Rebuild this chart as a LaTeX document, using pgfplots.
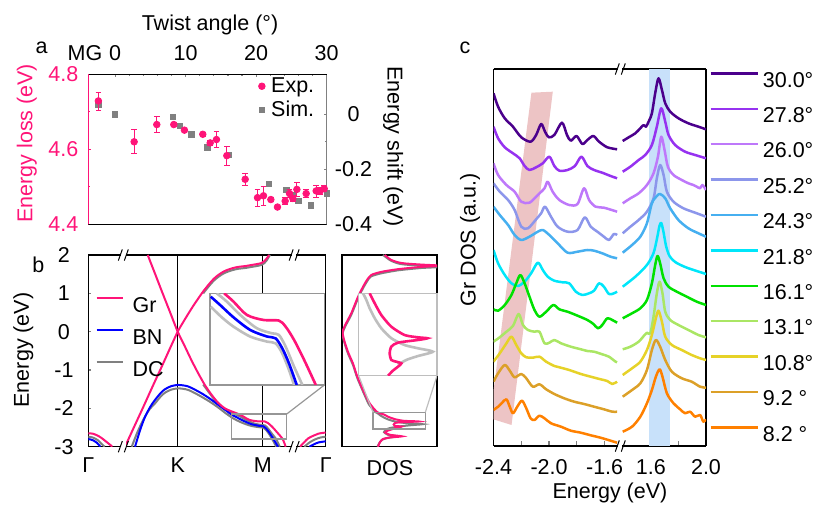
\documentclass[border=0pt]{standalone}
\usepackage{fontspec}
\setmainfont{Liberation Sans}
\usepackage{pgfplots}
\pgfplotsset{compat=1.18}
\definecolor{gr}{RGB}{255,20,120}
\definecolor{bn}{RGB}{0,0,255}
\definecolor{dc}{RGB}{128,128,128}
\definecolor{dcl}{RGB}{190,190,190}
\definecolor{boxg}{RGB}{150,150,150}
\definecolor{cA}{RGB}{75,0,140}
\definecolor{cB}{RGB}{150,50,240}
\definecolor{cC}{RGB}{190,120,250}
\definecolor{cD}{RGB}{140,150,235}
\definecolor{cE}{RGB}{70,175,240}
\definecolor{cF}{RGB}{0,230,250}
\definecolor{cG}{RGB}{0,225,0}
\definecolor{cH}{RGB}{170,230,100}
\definecolor{cI}{RGB}{230,210,40}
\definecolor{cJ}{RGB}{220,160,40}
\definecolor{cK}{RGB}{255,128,0}
\definecolor{pinkband}{RGB}{237,196,197}
\definecolor{blueband}{RGB}{200,225,250}
\newcommand{\fs}{\fontsize{10.75}{12.5}\selectfont}
% break mark "//" centred on a point
\newcommand{\brk}[1]{%
  \fill[white] ([shift={(-1.1pt,-2.8pt)}]#1) rectangle ([shift={(1.1pt,2.8pt)}]#1);
  \draw[line width=0.5pt] ([shift={(-2.5pt,-2.8pt)}]#1) -- ([shift={(-0.5pt,2.8pt)}]#1);
  \draw[line width=0.5pt] ([shift={(0.5pt,-2.8pt)}]#1) -- ([shift={(2.5pt,2.8pt)}]#1);}
\pgfplotsset{
  base/.style={scale only axis, anchor=south west, font=\fs,
    tick label style={font=\fs},
    /pgf/number format/assume math mode=true,
    axis line style={line width=0.65pt},
    every tick/.append style={line width=0.6pt},
    tick align=inside},
  spec/.style={line width=1.25pt, smooth, tension=0.5, line join=round},
}
\begin{document}
\begin{tikzpicture}
\path[use as bounding box] (0pt,0pt) rectangle (407pt,253.5pt);

% ---------------- panel a ----------------
\begin{axis}[base, at={(44.15pt,141.35pt)}, width=119.2pt, height=75pt,
  xmin=-3.8, xmax=30, ymin=-0.4, ymax=0.1455,
  axis x line=none, axis y line*=right, y axis line style={dc},
  ytick={-0.4,-0.2,0}, yticklabels={-0.4,-0.2,0}, minor y tick num=1,
  y tick style={dc}, yticklabel style={anchor=center, xshift=13.4pt},
  major tick length=1.6pt, minor tick length=1.1pt]
\addplot[only marks, mark=square*, mark size=1.35pt, dc] coordinates {
  (-2.37,0.034)(0,0.000)(8.2,-0.009)(9.2,-0.043)(10.8,-0.073)(13.1,-0.121)
  (16.1,-0.148)(21.8,-0.253)(24.3,-0.275)(25.2,-0.293)(26.0,-0.314)
  (27.8,-0.332)(30.0,-0.287)};
\end{axis}

\begin{axis}[base, at={(44.15pt,141.35pt)}, width=119.2pt, height=75pt,
  xmin=-3.8, xmax=30, ymin=4.4, ymax=4.8,
  axis x line*=top, axis y line*=left,
  x axis line style={black}, y axis line style={gr},
  xtick={0,10,20,30}, xticklabels={0,10,20,30}, minor x tick num=4,
  ytick={4.4,4.6,4.8}, yticklabels={4.4,4.6,4.8}, minor y tick num=1,
  y tick style={gr}, yticklabel style={text=gr, anchor=center, xshift=-12.5pt},
  xticklabel style={anchor=center, yshift=10.5pt},
  major tick length=1.6pt, minor tick length=1.1pt,
  legend style={draw=none, fill=none, at={(0.966,1.009)}, anchor=north east,
    inner sep=0pt, row sep=-1.2pt, column sep=1pt, font=\fs},
  legend image code/.code={\draw[#1] plot coordinates {(0pt,0pt)};},
  legend cell align=left]
\draw[line width=0.65pt] (rel axis cs:0,0) -- (rel axis cs:1,0);
\addplot[only marks, mark=*, mark size=1.65pt, gr,
  error bars/.cd, y dir=both, y explicit,
  error bar style={gr, line width=0.4pt},
  error mark options={rotate=90, gr, mark size=1.4pt, line width=0.4pt}]
  table[x=x, y=y, y error=e] {
x      y      e
-2.37  4.729  0.024
2.70   4.620  0.032
5.91   4.666  0.021
8.32   4.666  0.006
9.83   4.651  0.005
12.43  4.640  0.005
13.48  4.617  0.006
14.37  4.626  0.022
15.84  4.583  0.025
18.44  4.520  0.016
20.19  4.471  0.022
21.04  4.476  0.026
22.08  4.466  0.006
23.02  4.446  0.005
24.11  4.462  0.010
24.73  4.482  0.010
25.20  4.469  0.008
25.77  4.493  0.019
27.09  4.482  0.010
28.51  4.489  0.016
29.08  4.489  0.010
29.65  4.495  0.008
};
\addlegendentry{Exp.}
\addlegendimage{only marks, mark=square*, mark size=1.35pt, dc}
\addlegendentry{Sim.}
\end{axis}

% ---------------- panel b: bands ----------------
\begin{axis}[base, at={(44.15pt,30.15pt)}, width=118.7pt, height=95.85pt,
  xmin=-1.052, xmax=1.741, ymin=-3, ymax=2, clip mode=individual,
  xtick={-1.052,0,1,1.741}, xticklabels={Γ,K,M,Γ}, x tick style={draw=none},
  xticklabel style={anchor=center, yshift=-9.15pt},
  ytick={-3,-2,-1,0,1,2}, yticklabels={-3,-2,-1,0,1,2}, ytick pos=left,
  yticklabel style={anchor=center, xshift=-12.2pt},
  major tick length=1.6pt,
  legend style={draw=none, fill=none, at={(0.028,0.785)}, anchor=north west,
    inner sep=0pt, row sep=8.3pt, column sep=4.1pt, font=\fs,
    nodes={inner sep=0pt, text height=7.7pt, text depth=0pt}},
  legend image code/.code={\draw[#1] (0pt,3.3pt) -- (13.35pt,3.3pt);},
  legend cell align=left]
\addplot[black, line width=0.55pt, forget plot] coordinates {(0,-3)(0,2)};
\addplot[black, line width=0.55pt, forget plot] coordinates {(1,-3)(1,2)};
% DC (grey)
\addplot[dc, line width=1pt, smooth, tension=0.5, forget plot] coordinates {
  (-0.541,-3)(-0.47,-2.6)(-0.396,-2.26)(-0.33,-2.02)(-0.267,-1.87)(-0.2,-1.69)
  (-0.149,-1.59)(-0.075,-1.51)(0,-1.48)(0.062,-1.49)(0.125,-1.52)(0.2,-1.60)
  (0.282,-1.70)(0.38,-1.83)(0.478,-1.98)(0.56,-2.12)(0.639,-2.243)(0.702,-2.319)
  (0.768,-2.385)(0.863,-2.456)(0.959,-2.492)(1.006,-2.504)(1.044,-2.575)
  (1.082,-2.693)(1.111,-2.800)(1.16,-3.0)};
\addplot[dc, line width=1pt, smooth, tension=0.5, forget plot] coordinates {
  (0.3,-1.38)(0.4,-1.68)(0.478,-1.89)(0.555,-2.03)(0.635,-2.12)(0.673,-2.148)
  (0.730,-2.207)(0.806,-2.302)(0.901,-2.397)(0.987,-2.433)(1.025,-2.444)
  (1.063,-2.527)(1.111,-2.670)(1.158,-2.800)(1.2,-3.0)};
\addplot[dc, line width=1pt, smooth, tension=0.5, forget plot] coordinates {
  (0.30,1.0)(0.361,1.17)(0.42,1.32)(0.478,1.43)(0.55,1.53)(0.635,1.60)(0.712,1.64)
  (0.792,1.66)(0.87,1.69)(0.949,1.72)(0.985,1.74)(1.02,1.79)(1.047,1.86)(1.085,2.0)};
\addplot[dc, line width=1pt, smooth, forget plot] coordinates {
  (-1.052,-2.74)(-1.0,-2.76)(-0.94,-2.83)(-0.9,-2.92)(-0.86,-3.0)};
\addplot[dc, line width=1pt, smooth, forget plot] coordinates {
  (1.49,-3)(1.55,-2.89)(1.616,-2.81)(1.68,-2.76)(1.741,-2.74)};
% BN (blue)
\addplot[bn, line width=1pt, smooth, tension=0.5, forget plot] coordinates {
  (-0.502,-3.0)(-0.44,-2.55)(-0.384,-2.22)(-0.32,-1.95)(-0.267,-1.78)(-0.2,-1.60)
  (-0.149,-1.50)(-0.075,-1.42)(0,-1.39)(0.062,-1.40)(0.125,-1.43)(0.2,-1.51)
  (0.282,-1.61)(0.38,-1.75)(0.478,-1.91)(0.56,-2.04)(0.639,-2.172)(0.692,-2.231)
  (0.768,-2.319)(0.863,-2.409)(0.959,-2.456)(1.006,-2.468)(1.044,-2.539)
  (1.082,-2.646)(1.126,-2.800)(1.18,-3.0)};
\addplot[bn, line width=1pt, smooth, forget plot] coordinates {
  (-1.052,-2.80)(-1.0,-2.83)(-0.95,-2.9)(-0.91,-3.0)};
\addplot[bn, line width=1pt, smooth, forget plot] coordinates {
  (1.55,-3)(1.6,-2.94)(1.655,-2.89)(1.741,-2.86)};
% Gr (pink)
\addplot[gr, line width=1pt, smooth, tension=0.5, forget plot] coordinates {
  (-0.353,2)(-0.27,1.53)(-0.188,1.06)(-0.094,0.53)(0,0)(0.083,-0.38)(0.165,-0.76)
  (0.245,-1.10)(0.322,-1.40)(0.4,-1.65)(0.478,-1.86)(0.555,-2.00)(0.635,-2.08)
  (0.715,-2.148)(0.768,-2.207)(0.844,-2.302)(0.939,-2.338)(1.025,-2.342)
  (1.063,-2.385)(1.111,-2.480)(1.168,-2.622)(1.234,-2.800)(1.27,-3.0)};
\addplot[gr, line width=1pt, smooth, tension=0.5, forget plot] coordinates {
  (-0.620,-3.0)(-0.5,-2.42)(-0.4,-1.94)(-0.3,-1.45)(-0.2,-0.97)(-0.1,-0.48)(0,0)
  (0.062,0.24)(0.125,0.47)(0.185,0.68)(0.243,0.87)(0.30,1.05)(0.361,1.22)
  (0.42,1.37)(0.478,1.48)(0.55,1.58)(0.635,1.65)(0.712,1.69)(0.792,1.71)
  (0.87,1.74)(0.949,1.77)(0.985,1.79)(1.02,1.84)(1.047,1.91)(1.075,2.0)};
\addplot[gr, line width=1pt, smooth, forget plot] coordinates {
  (-1.052,-2.65)(-1.0,-2.66)(-0.933,-2.72)(-0.88,-2.8)(-0.835,-2.88)(-0.79,-2.96)(-0.77,-3.0)};
\addplot[gr, line width=1pt, smooth, forget plot] coordinates {
  (1.439,-3)(1.49,-2.88)(1.537,-2.78)(1.6,-2.71)(1.655,-2.66)(1.741,-2.63)};
\addlegendimage{gr, line width=1.2pt}\addlegendentry{Gr}
\addlegendimage{bn, line width=1.2pt}\addlegendentry{BN}
\addlegendimage{dc, line width=1.2pt}\addlegendentry{DC}
% zoom box and connector
\draw[boxg, line width=0.6pt] (axis cs:0.635,-2.148) rectangle (axis cs:1.282,-2.80);
\draw[boxg, line width=0.6pt] (axis cs:1.282,-2.148) -- (axis cs:1.725,-1.392);
\brk{axis cs:-0.64,2}
\brk{axis cs:-0.64,-3}
\brk{axis cs:1.37,2}
\brk{axis cs:1.37,-3}
\end{axis}

% inset of band panel
\begin{axis}[base, at={(105pt,61pt)}, width=57.15pt, height=45.85pt,
  xmin=0.635, xmax=1.282, ymin=-2.80, ymax=-2.148, xtick=\empty, ytick=\empty,
  axis line style={boxg, line width=0.6pt}, axis background/.style={fill=white}]
\addplot[dcl, line width=1.3pt, smooth, tension=0.5] coordinates {
  (0.639,-2.243)(0.702,-2.319)(0.768,-2.385)(0.863,-2.456)(0.959,-2.492)
  (1.006,-2.504)(1.044,-2.575)(1.082,-2.693)(1.111,-2.800)};
\addplot[dcl, line width=1.3pt, smooth, tension=0.5] coordinates {
  (0.673,-2.148)(0.730,-2.207)(0.806,-2.302)(0.901,-2.397)(0.987,-2.433)
  (1.025,-2.444)(1.063,-2.527)(1.111,-2.670)(1.158,-2.800)};
\addplot[bn, line width=1.3pt, smooth, tension=0.5] coordinates {
  (0.639,-2.172)(0.692,-2.231)(0.768,-2.319)(0.863,-2.409)(0.959,-2.456)
  (1.006,-2.468)(1.044,-2.539)(1.082,-2.646)(1.126,-2.800)};
\addplot[gr, line width=1.3pt, smooth, tension=0.5] coordinates {
  (0.715,-2.148)(0.768,-2.207)(0.844,-2.302)(0.939,-2.338)(1.025,-2.342)
  (1.063,-2.385)(1.111,-2.480)(1.168,-2.622)(1.234,-2.800)};
\end{axis}

% ---------------- panel b: DOS ----------------
\begin{axis}[base, at={(171pt,30.15pt)}, width=47.5pt, height=95.85pt,
  xmin=0, xmax=95, ymin=-3, ymax=2, xtick=\empty, ytick=\empty]
\addplot[dc, line width=1pt, smooth, tension=0.4] coordinates {
  (41,2.0)(45,1.92)(49,1.85)(56,1.78)(63,1.75)(79,1.72)(100,1.69)(79,1.66)
  (56,1.60)(39,1.52)(29,1.44)(25,1.31)(21,1.13)(16,0.87)(9.3,0.44)(0.7,-0.04)
  (5.3,-0.52)(11,-0.87)(15,-1.19)(21,-1.56)(27,-1.90)(33.9,-2.104)(36.1,-2.139)
  (38.3,-2.183)(41.7,-2.236)(46.1,-2.289)(52.8,-2.342)(61.7,-2.378)(70.6,-2.395)
  (80.6,-2.413)(70.6,-2.436)(63.9,-2.453)(55,-2.48)(47,-2.52)(44,-2.56)(42,-2.62)
  (46,-2.69)(55,-2.73)(46,-2.77)(40,-2.82)(37,-2.92)(35.5,-3.0)};
\addplot[gr, line width=1pt, smooth, tension=0.4] coordinates {
  (42.7,2.0)(46,1.93)(49.3,1.87)(56,1.81)(62.7,1.78)(79.3,1.75)(100,1.72)
  (79.3,1.69)(56,1.63)(39.3,1.56)(29.3,1.48)(25,1.35)(21,1.17)(16,0.91)
  (9.3,0.48)(0.7,0.0)(5.3,-0.48)(11,-0.83)(15,-1.15)(21,-1.52)(27.7,-1.87)
  (35.3,-2.10)(41.7,-2.157)(46.1,-2.219)(52.8,-2.281)(61.7,-2.325)(76.9,-2.342)
  (57.3,-2.365)(52.8,-2.386)(51.7,-2.422)(52.8,-2.457)(59.5,-2.475)(53.9,-2.513)
  (50.6,-2.540)(46,-2.58)(43,-2.63)(48,-2.69)(60,-2.73)(48,-2.76)(41,-2.80)
  (38,-2.88)(36,-3.0)};
\draw[boxg, line width=0.6pt] (axis cs:31,-2.104) rectangle (axis cs:83.3,-2.540);
\draw[dcl, line width=0.6pt] (axis cs:16.7,-1.149) -- (axis cs:31,-2.104);
\draw[dcl, line width=0.6pt] (axis cs:95,-1.149) -- (axis cs:83.3,-2.104);
\end{axis}

\begin{axis}[base, at={(179.35pt,65.65pt)}, width=39.15pt, height=41.2pt,
  xmin=31, xmax=83.3, ymin=-2.540, ymax=-2.104, xtick=\empty, ytick=\empty,
  axis line style={dcl, line width=0.6pt}, axis background/.style={fill=white}]
\addplot[dcl, line width=1.3pt, smooth, tension=0.4] coordinates {
  (33.9,-2.104)(36.1,-2.139)(38.3,-2.183)(41.7,-2.236)(46.1,-2.289)(52.8,-2.342)
  (61.7,-2.378)(70.6,-2.395)(80.6,-2.413)(70.6,-2.436)(63.9,-2.453)(60.6,-2.466)(57,-2.48)};
\addplot[gr, line width=1.3pt, smooth, tension=0.4] coordinates {
  (38.3,-2.104)(41.7,-2.157)(46.1,-2.219)(52.8,-2.281)(61.7,-2.325)(70.6,-2.337)
  (76.9,-2.342)(70.6,-2.351)(57.3,-2.365)(52.8,-2.386)(51.7,-2.422)(52.8,-2.457)
  (56.2,-2.466)(59.5,-2.475)(57.3,-2.492)(53.9,-2.513)(50.6,-2.540)};
\end{axis}

% ---------------- panel c ----------------
\begin{axis}[base, at={(246.75pt,30.5pt)}, width=62.5pt, height=188.5pt,
  xmin=-2.4, xmax=-1.5, ymin=0, ymax=377,
  axis x line*=bottom, axis y line*=left, clip mode=individual,
  xtick={-2.4,-2.2,-2.0,-1.8,-1.6}, xticklabels={-2.4,,-2.0,,-1.6}, ytick=\empty,
  xticklabel style={anchor=center, yshift=-10.35pt},
  major tick length=2.5pt]
\draw[line width=0.65pt] (rel axis cs:0,1) -- (rel axis cs:1,1);
\addplot[fill=pinkband, draw=none] coordinates {
  (-2.425,27.7)(-2.270,21)(-1.973,354.3)(-2.127,353.3)} -- cycle;
\addplot[spec, cA] coordinates {(-2.400,352.7)(-2.367,339.3)(-2.319,327.7)(-2.260,319.3)(-2.200,308.7)(-2.133,304.3)(-2.093,311)(-2.057,322)(-2.029,314.3)(-2.002,308.7)(-1.962,311)(-1.907,323.3)(-1.871,311)(-1.843,305.3)(-1.802,310)(-1.760,302)(-1.724,306)(-1.681,310)(-1.640,304.3)(-1.581,298.7)(-1.510,296.7)};
\addplot[spec, cB] coordinates {(-2.400,319.3)(-2.367,307.7)(-2.319,298.7)(-2.260,292.7)(-2.212,287.7)(-2.176,280)(-2.141,276)(-2.093,278.7)(-2.045,282.7)(-1.998,289.3)(-1.962,280)(-1.926,275.3)(-1.867,276)(-1.814,280)(-1.767,289.3)(-1.724,280)(-1.676,276)(-1.617,273.3)(-1.557,270)(-1.510,267.7)};
\addplot[spec, cC] coordinates {(-2.400,282.7)(-2.367,271)(-2.307,261)(-2.248,254.3)(-2.200,244.3)(-2.141,243.3)(-2.081,251)(-2.033,257.7)(-2.010,264.3)(-1.974,254.3)(-1.926,246)(-1.855,241)(-1.795,242)(-1.748,257.7)(-1.712,246)(-1.665,239.3)(-1.605,238.3)(-1.510,234.3)};
\addplot[spec, cD] coordinates {(-2.400,262.7)(-2.355,254.3)(-2.295,246)(-2.248,236)(-2.200,219.3)(-2.152,217.7)(-2.093,226.7)(-2.057,232.7)(-2.029,239.3)(-1.986,229.3)(-1.938,219.3)(-1.867,214.3)(-1.795,216)(-1.743,228.7)(-1.700,219.3)(-1.652,214.3)(-1.605,209.3)(-1.569,206)(-1.533,212)(-1.510,211)};
\addplot[spec, cE] coordinates {(-2.400,239.3)(-2.355,231)(-2.295,221)(-2.248,211)(-2.200,206)(-2.141,209.3)(-2.081,214.3)(-2.045,216)(-1.998,211)(-1.938,202.7)(-1.867,193.3)(-1.795,194.3)(-1.724,196)(-1.676,195.3)(-1.617,192.7)(-1.557,189.3)(-1.510,187.7)};
\addplot[spec, cF] coordinates {(-2.400,196)(-2.367,182.7)(-2.319,171)(-2.271,162.7)(-2.224,160)(-2.176,164.3)(-2.129,172.7)(-2.081,183.3)(-2.045,176)(-2.010,169.3)(-1.962,165.3)(-1.903,163.7)(-1.855,162.7)(-1.807,154.3)(-1.760,151)(-1.712,152.7)(-1.676,155.3)(-1.640,162.7)(-1.605,159.3)(-1.569,152)(-1.533,152.7)(-1.510,154.3)};
\addplot[spec, cG] coordinates {(-2.400,136.7)(-2.367,135.3)(-2.319,141)(-2.271,151)(-2.236,162.7)(-2.207,171)(-2.176,162.7)(-2.141,149.3)(-2.105,136)(-2.069,129.3)(-2.021,134.3)(-1.969,141)(-1.926,136.7)(-1.867,134.3)(-1.807,131)(-1.724,126)(-1.681,122)(-1.648,117.7)(-1.617,121)(-1.581,127.7)(-1.545,126)(-1.510,123.3)};
\addplot[spec, cH] coordinates {(-2.400,104.3)(-2.355,108.7)(-2.307,114.3)(-2.260,120)(-2.219,132)(-2.188,121)(-2.152,116)(-2.105,114.3)(-2.069,114.3)(-2.033,102.7)(-1.998,103.3)(-1.962,106)(-1.914,102.7)(-1.843,99.3)(-1.771,96.7)(-1.724,95)(-1.676,94.3)(-1.617,91.7)(-1.569,89.3)(-1.521,84.3)(-1.510,83.7)};
\addplot[spec, cI] coordinates {(-2.400,84.3)(-2.355,92.7)(-2.307,102.7)(-2.271,109.3)(-2.236,101)(-2.200,92.7)(-2.164,88.7)(-2.117,88.3)(-2.069,89.3)(-2.021,84.3)(-1.962,80)(-1.926,78.7)(-1.855,76)(-1.771,72)(-1.700,69.3)(-1.629,66.7)(-1.581,65)(-1.545,62)(-1.510,64.3)};
\addplot[spec, cJ] coordinates {(-2.400,64.3)(-2.367,72.7)(-2.319,81)(-2.283,75.3)(-2.248,68.7)(-2.200,72)(-2.164,67.7)(-2.117,59.3)(-2.069,61.7)(-2.021,56.7)(-1.962,52)(-1.891,47.7)(-1.819,44.3)(-1.748,42)(-1.676,39.3)(-1.605,36.7)(-1.545,34.3)(-1.510,34.3)};
\addplot[spec, cK] coordinates {(-2.400,36)(-2.367,39.3)(-2.338,43.3)(-2.307,46.7)(-2.283,39.3)(-2.260,32.7)(-2.229,39.3)(-2.195,45.3)(-2.164,37.7)(-2.133,27.7)(-2.105,26)(-2.069,30.3)(-2.033,27.7)(-1.986,22.7)(-1.914,19.3)(-1.843,15.3)(-1.771,13.3)(-1.700,10.7)(-1.629,8.3)(-1.557,5.3)(-1.510,3.3)};
\brk{axis cs:-1.487,377}
\brk{axis cs:-1.487,0}
\end{axis}

\begin{axis}[base, at={(311pt,30.5pt)}, width=42pt, height=188.5pt,
  xmin=1.39, xmax=2.0, ymin=0, ymax=377,
  axis x line*=bottom, axis y line*=right,
  xtick={1.6,1.8,2.0}, xticklabels={1.6,,2.0}, ytick=\empty,
  xticklabel style={anchor=center, yshift=-10.35pt},
  major tick length=2.5pt,
  legend style={draw=none, fill=none, at={(1.0357,0.994)}, anchor=north west,
    inner sep=0pt, row sep=10pt, column sep=2pt, font=\fs,
    nodes={inner sep=0pt, text height=7.7pt, text depth=0pt}},
  legend image code/.code={\draw[#1] (0pt,3pt) -- (23.5pt,3pt);},
  legend cell align=left]
\draw[line width=0.65pt] (rel axis cs:0,1) -- (rel axis cs:1,1);
\addplot[fill=blueband, draw=none, forget plot] coordinates {
  (1.583,0)(1.740,0)(1.740,377)(1.583,377)} -- cycle;
\addplot[spec, cA] coordinates {(1.395,305)(1.439,308.7)(1.487,312.7)(1.523,317.7)(1.547,321)(1.564,319.3)(1.583,324.3)(1.607,332.7)(1.631,352.7)(1.655,367.7)(1.680,356)(1.704,342.7)(1.740,334.3)(1.800,327.7)(1.872,322.7)(1.945,319.3)(2.000,316.7)};
\addlegendentry{30.0°}
\addplot[spec, cB] coordinates {(1.395,274.3)(1.451,279.3)(1.511,286)(1.559,291)(1.607,301)(1.643,319.3)(1.675,337.7)(1.704,324.3)(1.728,311)(1.776,301)(1.848,294.3)(1.921,291)(2.000,287.7)};
\addlegendentry{27.8°}
\addplot[spec, cC] coordinates {(1.395,242.7)(1.451,247.7)(1.511,252.7)(1.571,261)(1.619,272.7)(1.651,289.3)(1.675,309.3)(1.699,296)(1.723,279.3)(1.764,271)(1.824,266)(1.872,262.7)(1.908,261)(1.933,259.3)(1.957,257.7)(1.974,261)(2.000,256)};
\addlegendentry{26.0°}
\addplot[spec, cD] coordinates {(1.395,212.7)(1.451,219.3)(1.511,226)(1.571,234.3)(1.619,247.7)(1.643,267.7)(1.667,281)(1.692,271)(1.716,254.3)(1.764,244.3)(1.836,237.7)(1.921,233.3)(2.000,229.3)};
\addlegendentry{25.2°}
\addplot[spec, cE] coordinates {(1.395,193.3)(1.463,201)(1.523,209.3)(1.571,222.7)(1.607,242.7)(1.643,250)(1.667,252)(1.704,247.7)(1.740,237.7)(1.800,226)(1.872,217.7)(1.945,212.7)(2.000,209.3)};
\addlegendentry{24.3°}
\addplot[spec, cF] coordinates {(1.395,159.3)(1.487,169.3)(1.571,181)(1.619,193)(1.645,208)(1.662,220)(1.675,223)(1.690,215)(1.710,200)(1.735,190)(1.776,184)(1.848,179)(1.921,175.5)(2.000,172)};
\addlegendentry{21.8°}
\addplot[spec, cG] coordinates {(1.395,127.7)(1.463,132.7)(1.523,137.7)(1.571,146)(1.607,162.7)(1.631,181)(1.648,190)(1.667,182.7)(1.692,167.7)(1.728,159.3)(1.788,154.3)(1.860,149.3)(1.933,144.3)(2.000,141)};
\addlegendentry{16.1°}
\addplot[spec, cH] coordinates {(1.395,96.7)(1.451,99.3)(1.511,104.3)(1.554,111)(1.571,113.3)(1.595,112.7)(1.619,129.3)(1.643,152.7)(1.663,164.3)(1.684,152.7)(1.704,134.3)(1.740,126)(1.800,121)(1.872,116)(1.945,111)(2.000,108.7)};
\addlegendentry{13.1°}
\addplot[spec, cI] coordinates {(1.395,71)(1.463,77.7)(1.523,84.3)(1.571,96)(1.607,111)(1.636,127.7)(1.655,135.3)(1.680,124.3)(1.704,109.3)(1.752,101)(1.824,96)(1.896,91)(1.957,87.7)(2.000,86)};
\addlegendentry{10.8°}
\addplot[spec, cJ] coordinates {(1.395,49.3)(1.463,56)(1.523,62.7)(1.571,76)(1.607,96)(1.636,106)(1.667,99.3)(1.704,86)(1.752,74.3)(1.824,67.7)(1.896,64.3)(1.957,59.3)(2.000,58.3)};
\addlegendentry{9.2 °}
\addplot[spec, cK] coordinates {(1.395,14.3)(1.463,19.3)(1.523,29.3)(1.571,42.7)(1.607,56)(1.636,69.3)(1.663,76.7)(1.684,69.3)(1.716,52.7)(1.764,42.7)(1.812,36.7)(1.848,32.7)(1.884,34.3)(1.921,29.3)(1.957,31)(1.981,24.3)(2.000,26.7)};
\addlegendentry{8.2 °}
\end{axis}

\begin{scope}[x=0.5pt,y=0.5pt]
\node[font=\fs] at (210,482) {Twist angle (°)};
\node[font=\fs] at (85,453.7) {MG};
\node[font=\fs] at (41.7,458.7) {a};
\node[font=\fs, rotate=90, text=gr] at (26.7,363.7) {Energy loss (eV)};
\node[font=\fs, rotate=-90] at (393.3,360.3) {Energy shift (eV)};
\node[font=\fs] at (38.3,242) {b};
\node[font=\fs, rotate=90] at (23.3,157) {Energy (eV)};
\node[font=\fs] at (390,38.7) {DOS};
\node[font=\fs] at (465,458.7) {c};
\node[font=\fs, rotate=90] at (470,267) {Gr DOS (a.u.)};
\node[font=\fs] at (610,13.7) {Energy (eV)};
\end{scope}
\end{tikzpicture}
\end{document}
